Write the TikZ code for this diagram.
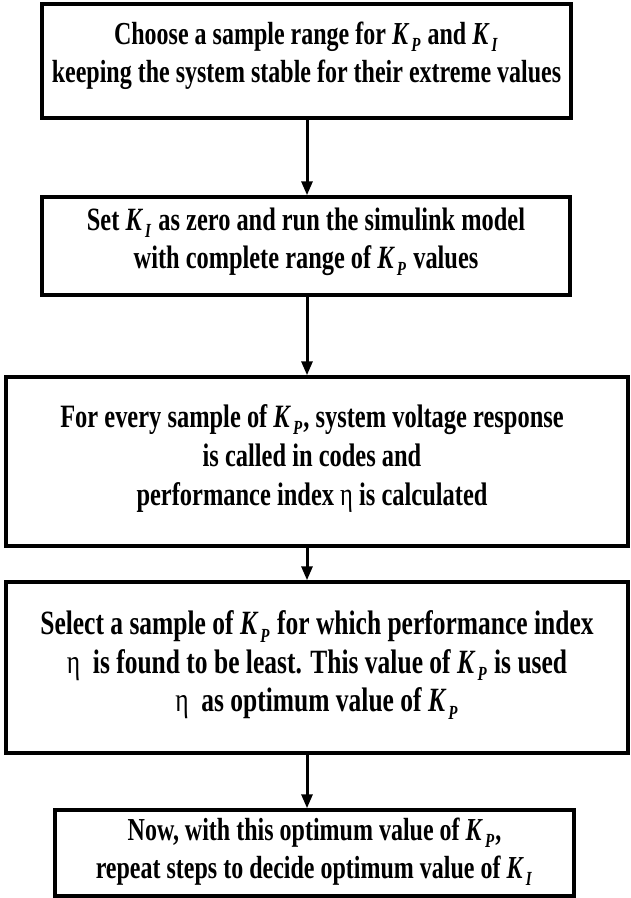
\documentclass[tikz,border=0pt]{standalone}
\usepackage{fontspec}
\setmainfont[FakeStretch=0.75]{Liberation Serif}
\usetikzlibrary{arrows.meta}
\newcommand{\KP}{\textit{K}\kern2pt\raisebox{-0.22em}{\fontsize{20}{20}\selectfont\textit{P}}\kern1pt}
\newcommand{\KI}{\textit{K}\kern2pt\raisebox{-0.22em}{\fontsize{20}{20}\selectfont\textit{I}}\kern1pt}
\newcommand{\etaa}{{\mdseries η}}
\begin{document}
\begin{tikzpicture}[x=1pt,y=1pt,
  box/.style={draw=black,line width=3.5pt,fill=white,inner sep=0pt},
  txt/.style={inner sep=0pt,align=center,font=\bfseries\fontsize{32}{38}\selectfont},
  arr/.style={line width=3pt,-{Triangle[length=14pt,width=11pt]}}]
\useasboundingbox[fill=white] (0,0) rectangle (630,-898);
\coordinate (ax) at (307,0);
\node[box,minimum width=529pt,minimum height=114pt] (b1) at (306.5,-61) {};
\node[txt] (t1) at ([yshift=5pt]b1.center)
  {Choose a sample range for \KP{} and \KI\\keeping the system stable for their extreme values};
\node[box,minimum width=528pt,minimum height=98pt] (b2) at (306,-246) {};
\node[txt,font=\bfseries\fontsize{32.5}{38}\selectfont] (t2) at ([yshift=4pt]b2.center)
  {Set \KI{} as zero and run the simulink model\\with complete range of \KP{} values};
\node[box,minimum width=622pt,minimum height=169pt] (b3) at (317,-461.5) {};
\node[txt,font=\bfseries\fontsize{32.6}{39}\selectfont] (t3) at ([xshift=-5pt,yshift=3.5pt]b3.center)
  {For every sample of \KP, system voltage response\\is called in codes and\\performance index \etaa{} is calculated};
\node[box,minimum width=622pt,minimum height=171pt] (b4) at (317,-667.5) {};
\node[txt,font=\bfseries\fontsize{34}{38.5}\selectfont] (t4) at ([yshift=2.5pt]b4.center)
  {Select a sample of \KP{} for which performance index\\\etaa\ \ is found to be least. This value of \KP{} is used\\\etaa\ \ as optimum value of \KP};
\node[box,minimum width=519pt,minimum height=86pt] (b5) at (314.5,-853) {};
\node[txt,font=\bfseries\fontsize{32}{37.5}\selectfont] (t5) at ([yshift=1.5pt]b5.center)
  {Now, with this optimum value of \KP,\\repeat steps to decide optimum value of \KI};
\draw[arr] (b1.south -| ax) -- (b2.north -| ax);
\draw[arr] (b2.south -| ax) -- (b3.north -| ax);
\draw[arr] (b3.south -| ax) -- (b4.north -| ax);
\draw[arr] (b4.south -| ax) -- (b5.north -| ax);
\end{tikzpicture}
\end{document}
